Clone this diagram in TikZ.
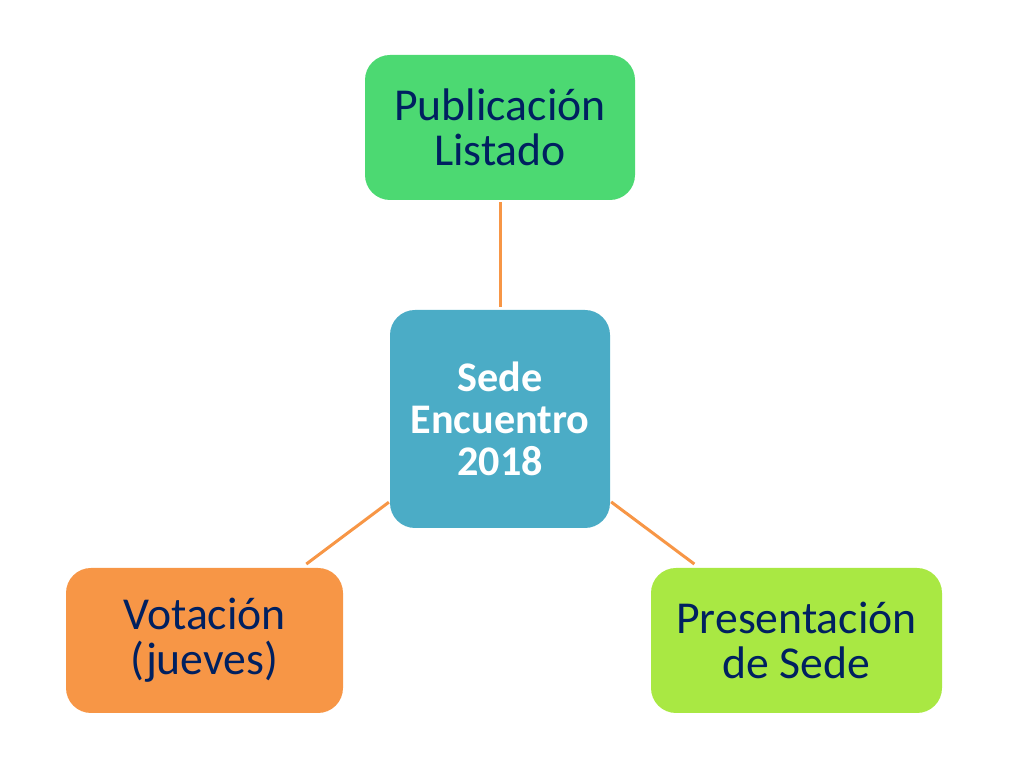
\documentclass[tikz,border=0pt]{standalone}
\usepackage{fontspec}
\setmainfont{Carlito}
\definecolor{boxgreen}{RGB}{76,217,114}
\definecolor{boxblue}{RGB}{75,172,198}
\definecolor{boxorange}{RGB}{247,150,70}
\definecolor{boxlime}{RGB}{169,232,67}
\definecolor{textnavy}{RGB}{0,32,96}
\definecolor{linkorange}{RGB}{247,150,70}
\tikzset{
  box/.style={
    rectangle,
    rounded corners=0.5cm,
    align=center,
    inner sep=0pt
  },
  box-outer/.style={
    box,
    text=textnavy,
    minimum height=2.9cm,
    font=\fontsize{26}{25.6}\selectfont
  },
  box-center/.style={
    box,
    fill=boxblue,
    text=white,
    minimum width=4.4cm,
    minimum height=4.36cm,
    font=\bfseries\fontsize{24}{23.8}\selectfont
  },
  link/.style={draw=linkorange, line width=0.06cm}
}
\begin{document}
\begin{tikzpicture}
  \useasboundingbox (0,0) rectangle (20.48,15.36);

  % Central node
  \node[box-center] (sede) at (10,6.98) {Sede\\Encuentro\\2018};

  % Outer nodes
  \node[box-outer, fill=boxgreen, minimum width=5.4cm] (publicacion) at (10,12.81) {Publicación\\Listado};
  \node[box-outer, fill=boxorange, minimum width=5.54cm] (votacion) at (4.09,2.55) {Votación\\(jueves)};
  \node[box-outer, fill=boxlime, minimum width=5.82cm] (presentacion) at (15.93,2.55) {Presentación\\de Sede};

  % Connectors (center to center, cut at the borders)
  \draw[link, shorten <=0.04cm, shorten >=0.06cm] (publicacion) -- (sede);
  \draw[link, shorten <=0.02cm, shorten >=0.12cm] (sede) -- (votacion);
  \draw[link, shorten <=0.02cm, shorten >=0.12cm] (sede) -- (presentacion);

\end{tikzpicture}
\end{document}
